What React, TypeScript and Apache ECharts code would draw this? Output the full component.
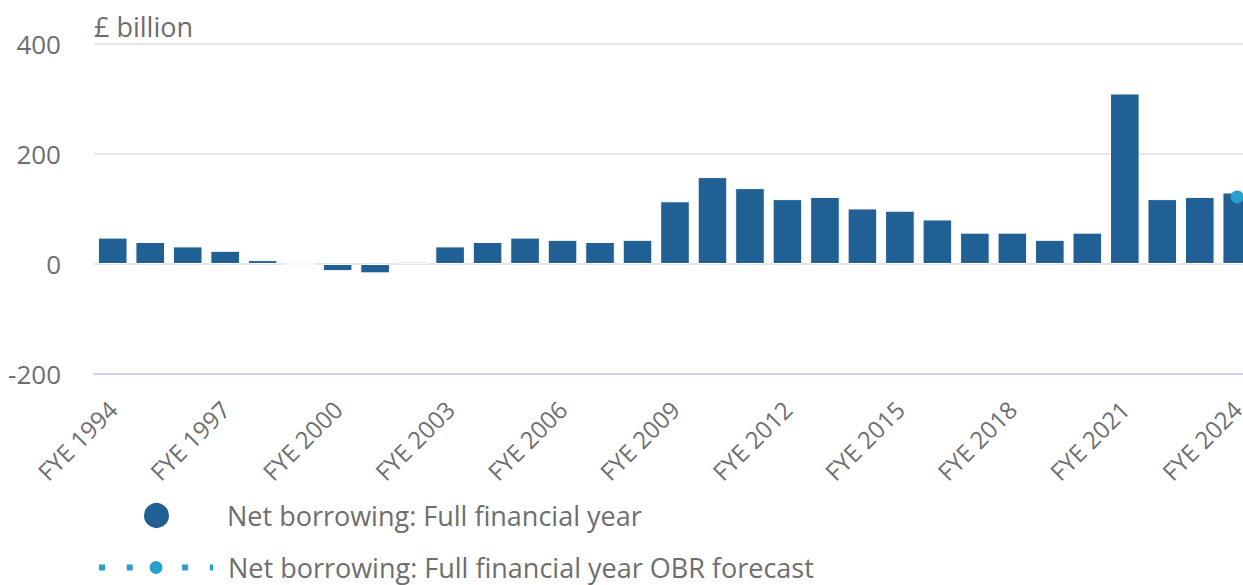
import React, { useEffect, useRef } from "react";
import * as echarts from "echarts";

const years: string[] = [
  "FYE 1994", "FYE 1995", "FYE 1996", "FYE 1997", "FYE 1998", "FYE 1999",
  "FYE 2000", "FYE 2001", "FYE 2002", "FYE 2003", "FYE 2004", "FYE 2005",
  "FYE 2006", "FYE 2007", "FYE 2008", "FYE 2009", "FYE 2010", "FYE 2011",
  "FYE 2012", "FYE 2013", "FYE 2014", "FYE 2015", "FYE 2016", "FYE 2017",
  "FYE 2018", "FYE 2019", "FYE 2020", "FYE 2021", "FYE 2022", "FYE 2023",
  "FYE 2024",
];

const netBorrowing: number[] = [
  48, 40, 32, 24, 7, 0,
  -13, -17, 4, 32, 40, 48,
  44, 40, 44, 114, 158, 138,
  118, 122, 101, 97, 81, 57,
  57, 44, 57, 310, 118, 122,
  130,
];

const obrForecast: (number | null)[] = [
  null, null, null, null, null, null, null, null, null, null, null,
  null, null, null, null, null, null, null, null, null, null, null,
  null, null, null, null, null, null, null, null, 122,
];

const SERIES_A = "Net borrowing: Full financial year";
const SERIES_B = "Net borrowing: Full financial year OBR forecast";

const FONT = "Open Sans";
const TEXT = "#6e6e6e";
const DARK = "#206095";
const LIGHT = "#27a0cc";

export default function App() {
  const ref = useRef<HTMLDivElement>(null);

  useEffect(() => {
    if (!ref.current) return;
    const chart = echarts.init(ref.current, undefined, { renderer: "svg" });
    chart.setOption({
      animation: false,
      textStyle: { fontFamily: FONT },
      grid: { left: 94, right: 6, top: 44, bottom: 211, containLabel: false },
      legend: [
        {
          data: [SERIES_A],
          left: 142,
          top: 501,
          padding: 0,
          orient: "vertical",
          icon: "circle",
          itemWidth: 27,
          itemHeight: 27,
          selectedMode: false,
          textStyle: { fontFamily: FONT, fontSize: 27, color: TEXT, padding: [0, 0, 0, 52] },
        },
        {
          data: [SERIES_B],
          left: 96,
          top: 554,
          padding: 0,
          orient: "vertical",
          itemWidth: 114,
          itemHeight: 16,
          selectedMode: false,
          lineStyle: { width: 6, type: [6, 21.7], color: LIGHT, cap: "butt" },
          textStyle: { fontFamily: FONT, fontSize: 27, color: TEXT, padding: [0, 0, 0, 10] },
        },
      ],
      xAxis: {
        type: "category",
        data: years,
        boundaryGap: true,
        axisLine: { onZero: false, lineStyle: { color: "#ccd6eb", width: 2 } },
        axisTick: {
          alignWithLabel: true,
          interval: 2,
          length: 20,
          lineStyle: { color: "#ccd6eb", width: 2 },
        },
        axisLabel: {
          interval: 2,
          rotate: 45,
          margin: 31,
          fontFamily: FONT,
          fontSize: 24,
          color: TEXT,
        },
        splitLine: { show: false },
      },
      yAxis: {
        type: "value",
        min: -200,
        max: 400,
        interval: 200,
        name: "£ billion",
        nameLocation: "end",
        nameGap: 4,
        nameTextStyle: {
          align: "left",
          verticalAlign: "bottom",
          fontFamily: FONT,
          fontSize: 27,
          color: TEXT,
        },
        axisLine: { show: false },
        axisTick: { show: false },
        axisLabel: {
          margin: 33,
          fontFamily: FONT,
          fontSize: 26,
          color: TEXT,
          padding: [11, 0, 0, 0],
        },
        splitLine: { lineStyle: { color: "#e6e6e6", width: 2 } },
      },
      series: [
        {
          name: SERIES_A,
          type: "bar",
          data: netBorrowing,
          barCategoryGap: "21%",
          itemStyle: { color: DARK, borderColor: "#ffffff", borderWidth: 1 },
        },
        {
          name: SERIES_B,
          type: "line",
          data: obrForecast,
          symbol: "circle",
          symbolSize: 13,
          showSymbol: true,
          itemStyle: { color: LIGHT },
          lineStyle: { width: 6, type: [6, 21.7], color: LIGHT },
          z: 3,
        },
      ],
    });
    return () => chart.dispose();
  }, []);

  return (
    <div
      style={{
        position: "fixed",
        left: 0,
        top: 0,
        width: 1243,
        height: 585,
        overflow: "hidden",
        background: "#ffffff",
      }}
    >
      <div ref={ref} style={{ width: 1262, height: 585 }} />
    </div>
  );
}
